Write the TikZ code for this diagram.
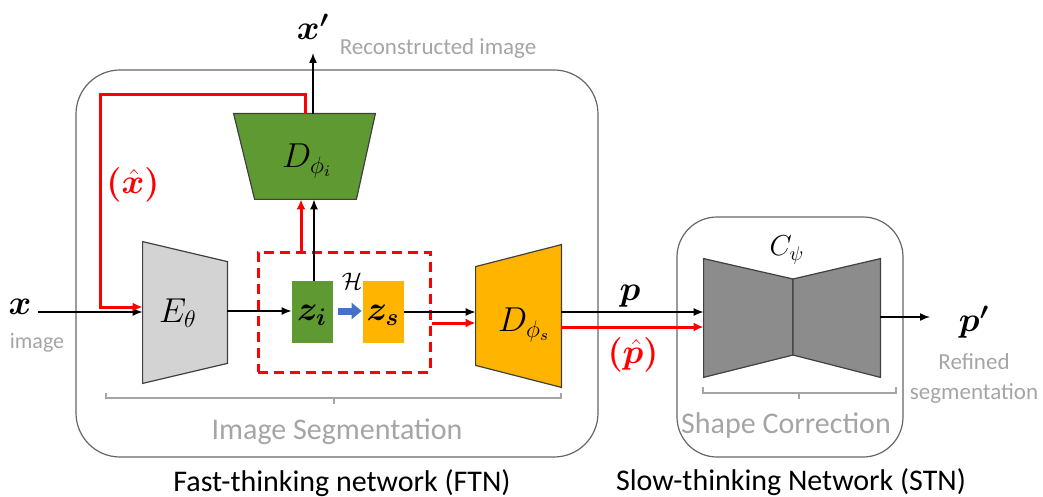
\documentclass[tikz,border=0pt]{standalone}
\usepackage{amsmath,bm}
\usepackage{fontspec}
\setmainfont{Carlito}
\usetikzlibrary{arrows.meta}
\definecolor{fgreen}{RGB}{94,153,50}
\definecolor{forange}{RGB}{255,180,0}
\definecolor{egray}{RGB}{211,211,211}
\definecolor{cgray}{RGB}{140,140,140}
\definecolor{ltxt}{RGB}{165,165,165}
\definecolor{fred}{RGB}{255,0,0}
\definecolor{fblue}{RGB}{68,114,196}
\begin{document}
\begin{tikzpicture}[x=0.5pt,y=-0.5pt,
 blk/.style={line width=0.75pt,-{Latex[length=5pt,width=4pt]}},
 redarr/.style={fred,line width=1.5pt,-{Latex[length=5pt,width=4.5pt]}},
 bluearr/.style={fblue,line width=3.5pt,-{Triangle[length=5pt,width=8pt]}},
 trap/.style={draw=black!75,line width=0.6pt},
 frame/.style={draw=black!60,line width=0.6pt,rounded corners=22pt},
 gtxt/.style={text=ltxt},
 mth/.style={font=\fontsize{17}{19}\selectfont},
 mthb/.style={font=\fontsize{16.5}{18}\selectfont},
 brk/.style={draw=ltxt,line width=0.6pt},
 lbl/.style={font=\fontsize{15}{17}\selectfont},
 box/.style={inner sep=0pt}
]
\useasboundingbox (0,0) rectangle (1043,497);

% frames
\draw[frame] (76,70) rectangle (598,457);
\draw[frame,rounded corners=20pt] (677,217) rectangle (903,457);

% shape nodes
\node[box,minimum width=42pt,minimum height=70.5pt] (E) at (185,312.5) {};
\node[box,minimum width=70.5pt,minimum height=42.5pt] (Di) at (304.5,156.5) {};
\node[box,minimum width=42.5pt,minimum height=71pt] (Ds) at (518.5,316) {};
\node[box,minimum width=88pt,minimum height=59pt] (C) at (792,318) {};

\draw[trap,fill=egray] (E.north west) -- ([yshift=-10pt]E.north east) -- ([yshift=10pt]E.south east) -- (E.south west) -- cycle;
\draw[trap,fill=fgreen] (Di.north west) -- (Di.north east) -- ([xshift=-9.5pt]Di.south east) -- ([xshift=10.5pt]Di.south west) -- cycle;
\draw[trap,fill=forange] ([yshift=-11pt]Ds.north west) -- (Ds.north east) -- (Ds.south east) -- ([yshift=11pt]Ds.south west) -- cycle;
\coordinate (Cwt) at (793,279);
\coordinate (Cwb) at (793,355);
\draw[trap,fill=cgray] (C.north west) -- (Cwt) -- (Cwb) -- (C.south west) -- cycle;
\draw[trap,fill=cgray] (Cwt) -- (C.north east) -- (C.south east) -- (Cwb) -- cycle;

\node[mth] (Et) at (178,313) {$E_{\theta}$};
\node[mth] (Dit) at (307,161) {$D_{\phi_i}$};
\node[mth] (Dst) at (524,325) {$D_{\phi_s}$};
\node[font=\fontsize{14}{16}\selectfont] (Ct) at (787,250) {$C_{\psi}$};

% latent
\node[draw=fred,dashed,dash pattern=on 5pt off 3pt,line width=1.5pt,minimum width=86pt,minimum height=60pt] (dbox) at (344,312) {};
\node[fill=fgreen,minimum width=20.5pt,minimum height=31pt,inner sep=0pt] (zi) at (312.5,312) {};
\node[fill=forange,minimum width=20.5pt,minimum height=31pt,inner sep=0pt] (zs) at (383.5,312) {};
\node[font=\fontsize{17}{19}\selectfont] (zit) at (312,315) {$\bm{z_i}$};
\node[font=\fontsize{17}{19}\selectfont] (zst) at (383,315) {$\bm{z_s}$};
\node[font=\fontsize{12}{13}\selectfont] (H) at (352,281) {$\mathcal{H}$};
\draw[bluearr] ([xshift=2.5pt]zi.east |- 0,311) -- ([xshift=-0.5pt]zs.west |- 0,311);

% labels
\node[mthb] (x) at (20,307) {$\bm{x}$};
\node[gtxt,font=\fontsize{11}{12}\selectfont] (img) at (37,343) {image};
\node[mthb] (xp) at (313,27) {$\bm{x'}$};
\node[gtxt,font=\fontsize{11.5}{13}\selectfont] (rec) at (438,48) {Reconstructed image};
\node[mthb,text=fred,inner sep=0pt] (xh) at (133,185) {$\bm{(}\hat{\bm{x}}\bm{)}$};
\node[mthb] (p) at (630,296) {$\bm{p}$};
\node[mthb,text=fred,inner sep=0pt] (ph) at (633,355) {$\bm{(}\hat{\bm{p}}\bm{)}$};
\node[font=\fontsize{18}{20}\selectfont] (pp) at (974,322) {$\bm{p'}$};
\node[gtxt,font=\fontsize{11.5}{15}\selectfont,align=center] (refl) at (974,378) {Refined\\segmentation};
\node[gtxt,font=\fontsize{15}{17}\selectfont] (iseg) at (337,432) {Image Segmentation};
\node[gtxt,font=\fontsize{15}{17}\selectfont] (scor) at (786,425) {Shape Correction};
\node[lbl] (ftnl) at (342,483) {Fast-thinking network (FTN)};
\node[lbl] (stnl) at (791,482) {Slow-thinking Network (STN)};

% brackets
\draw[brk] (106,393) -- (106,398) -- (561,398) -- (561,393);
\draw[brk] (334,398) -- (334,404);
\draw[brk] (703,387) -- (703,393) -- (896,393) -- (896,387);
\draw[brk] (799,393) -- (799,399);

% connectors
\coordinate (xtop) at (313,53);
\coordinate (pend) at (930,317);
\coordinate (ru) at (301,252);
\coordinate (rt) at (305,114);
\draw[blk] (x.east |- 0,312) -- (E.west |- 0,312);
\draw[redarr] (rt) -- (305,95) -- (100,95) -- (100,307) -- (E.west |- 0,307);
\draw[blk] (Di.north -| 313,0) -- (xtop);
\draw[blk] (zi.north -| 314,0) -- (Di.south -| 314,0);
\draw[redarr] (ru) -- (ru |- Di.south);
\draw[blk] (E.east |- 0,311) -- (zi.west |- 0,311);
\draw[blk] (zs.east |- 0,312) -- (Ds.west |- 0,312);
\draw[redarr] (dbox.east |- 0,323) -- (Ds.west |- 0,323);
\draw[blk] (Ds.east |- 0,312) -- (C.west |- 0,312);
\draw[redarr] (Ds.east |- 0,327) -- (C.west |- 0,327);
\draw[blk] (C.east |- 0,317) -- (pend);
\end{tikzpicture}
\end{document}
